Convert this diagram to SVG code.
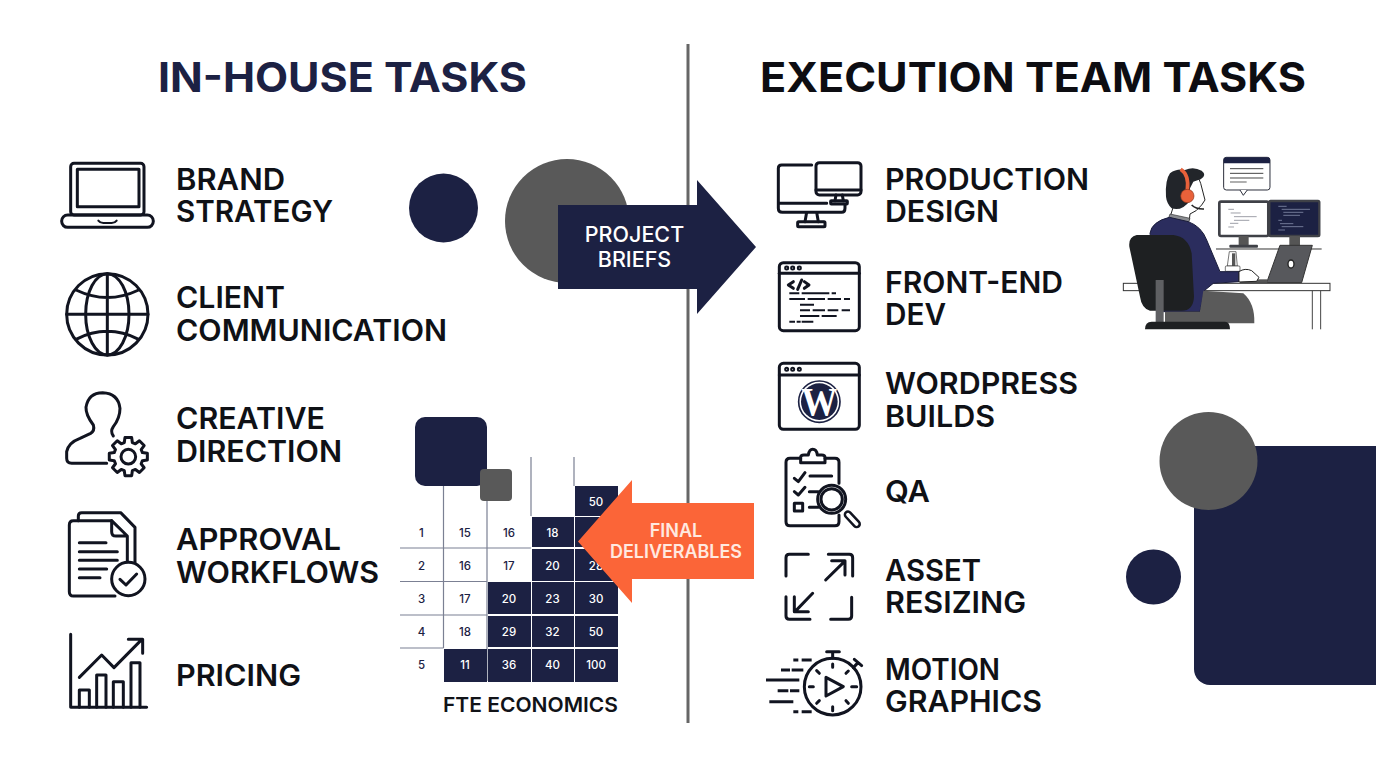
<svg xmlns="http://www.w3.org/2000/svg" width="1376" height="768" viewBox="0 0 1376 768">
<style>
.t{font-family:"Inter","Liberation Sans",sans-serif}
.title{font-size:41px;font-weight:700}
.lb{font-size:30px;font-weight:600;fill:#0f1116}
.n{font-size:11.5px;font-weight:500;text-anchor:middle;fill:#1c2143}
.cell{fill:#1c2143}
.g{stroke:#7b8093;stroke-width:1.2;fill:none}
.ic{fill:none;stroke:#111420;stroke-width:9;stroke-linecap:round;stroke-linejoin:round}
.l{stroke:#9aa3c0;stroke-width:2;fill:none}
</style>
<rect width="1376" height="768" fill="#fff"/>

<g id="decor">
<circle cx="443.500" cy="208" r="34.500" fill="#1c2143"/>
<circle cx="567" cy="221" r="62" fill="#595959"/>
<rect x="1194" y="446" width="200" height="239" rx="16" fill="#1c2143"/>
<circle cx="1208.500" cy="461" r="49" fill="#595959"/>
<circle cx="1153.500" cy="577" r="27.500" fill="#1c2143"/>
</g>

<g id="divider"><line x1="688" y1="44" x2="688" y2="723" stroke="#666" stroke-width="3"/></g>

<g id="titles" class="t">
<text class="t title" x="158" y="92" fill="#1c2143" textLength="369" lengthAdjust="spacingAndGlyphs">IN-HOUSE TASKS</text>
<text class="t title" x="760" y="92" fill="#0d0d12" textLength="546" lengthAdjust="spacingAndGlyphs">EXECUTION TEAM TASKS</text>
</g>

<g id="node-brand-strategy">
<g transform="translate(50,150) scale(.3333)" class="ic">
<rect x="62" y="40" width="220" height="155" rx="10"/><rect x="82" y="58" width="185" height="112"/>
<rect x="35" y="195" width="275" height="37" rx="18"/><path d="M145 212Q150 219 160 219H185Q195 219 200 212" stroke-width="6"/>
</g>
<text class="t lb" x="176" y="190" textLength="109" lengthAdjust="spacingAndGlyphs">BRAND</text>
<text class="t lb" x="176" y="222" textLength="157" lengthAdjust="spacingAndGlyphs">STRATEGY</text>
</g>
<g id="node-client-communication">
<g transform="translate(50,150) scale(.3333)" class="ic">
<circle cx="172" cy="493" r="122"/><ellipse cx="172" cy="493" rx="65" ry="122"/>
<path d="M172 371V615M50 493H294M78 420Q172 465 266 420M78 568Q172 520 266 568"/>
</g>
<text class="t lb" x="176" y="308" textLength="109" lengthAdjust="spacingAndGlyphs">CLIENT</text>
<text class="t lb" x="176" y="341" textLength="271" lengthAdjust="spacingAndGlyphs">COMMUNICATION</text>
</g>
<g id="node-creative-direction">
<g transform="translate(50,150) scale(.3333)" class="ic">
<path d="M170 940H65Q50 940 50 925V905Q55 878 90 865L122 850Q135 843 130 825Q107 795 108 772Q115 728 158 728Q205 730 210 775Q210 805 190 830Q180 845 190 858"/>
<circle cx="235" cy="920" r="22"/>
<path transform="translate(235,920)" d="M42.300 -12.100L57.100 -10.100L57.100 10.100L42.300 12.100L38.500 21.300L47.500 33.300L33.300 47.500L21.300 38.500L12.100 42.300L10.100 57.100L-10.100 57.100L-12.100 42.300L-21.300 38.500L-33.300 47.500L-47.500 33.300L-38.500 21.300L-42.300 12.100L-57.100 10.100L-57.100 -10.100L-42.300 -12.100L-38.500 -21.300L-47.500 -33.300L-33.300 -47.500L-21.300 -38.500L-12.100 -42.300L-10.100 -57.100L10.100 -57.100L12.100 -42.300L21.300 -38.500L33.300 -47.500L47.500 -33.300L38.500 -21.300Z"/>
</g>
<text class="t lb" x="176" y="429" textLength="149" lengthAdjust="spacingAndGlyphs">CREATIVE</text>
<text class="t lb" x="176" y="462" textLength="166" lengthAdjust="spacingAndGlyphs">DIRECTION</text>
</g>
<g id="node-approval-workflows">
<g transform="translate(50,500) scale(.3333)" class="ic">
<path d="M85 62V48Q85 38 95 38H212L255 82V195"/>
<path d="M185 62H70Q58 62 58 75V275Q58 288 70 288H195"/>
<path d="M185 62V95Q185 108 198 108H232V190M185 62L232 108"/>
<path d="M88 128H168M88 155H202M88 181H202M88 207H170M88 233H150"/>
<circle cx="235" cy="237" r="50" fill="#fff"/><path d="M210 238L228 255L260 222"/>
</g>
<text class="t lb" x="176" y="550" textLength="165" lengthAdjust="spacingAndGlyphs">APPROVAL</text>
<text class="t lb" x="176" y="583" textLength="203" lengthAdjust="spacingAndGlyphs">WORKFLOWS</text>
</g>
<g id="node-pricing">
<g transform="translate(50,500) scale(.3333)" class="ic">
<path d="M62 403V622H290"/>
<path d="M88 622V570H118V622M140 622V525H168V622M190 622V545H220V622M243 622V488H270V622"/>
<path d="M88 532L155 465L192 503L272 422M235 418H278V460"/>
</g>
<text class="t lb" x="176" y="686" textLength="125" lengthAdjust="spacingAndGlyphs">PRICING</text>
</g>

<g id="node-fte-economics">
<rect x="415" y="417" width="72" height="69" rx="10" fill="#1c2143"/>
<g class="g">
<path d="M443.500 486V648M487 501V681M531 457V516M574 457V486M400 548H531M400 581.500H487M400 615H487M400 648H443.500"/>
</g>
<rect x="480" y="469" width="32" height="32" rx="4" fill="#595959"/>
<g>
<rect class="cell" x="575" y="486" width="43" height="30"/>
<rect class="cell" x="532" y="517" width="42" height="30"/><rect class="cell" x="575" y="517" width="43" height="30"/>
<rect class="cell" x="532" y="549" width="42" height="32"/><rect class="cell" x="575" y="549" width="43" height="32"/>
<rect class="cell" x="488" y="582" width="43" height="32"/><rect class="cell" x="532" y="582" width="42" height="32"/><rect class="cell" x="575" y="582" width="43" height="32"/>
<rect class="cell" x="488" y="616" width="43" height="31"/><rect class="cell" x="532" y="616" width="42" height="31"/><rect class="cell" x="575" y="616" width="43" height="31"/>
<rect class="cell" x="444" y="649" width="43" height="33"/><rect class="cell" x="488" y="649" width="43" height="33"/><rect class="cell" x="532" y="649" width="42" height="33"/><rect class="cell" x="575" y="649" width="43" height="33"/>
</g>
<g class="t">
<text class="t n" style="fill:#fff" x="596" y="505.500">50</text>
<text class="t n" x="421.500" y="537">1</text><text class="t n" x="465" y="537">15</text><text class="t n" x="509" y="537">16</text><text class="t n" style="fill:#fff" x="552.500" y="537">18</text>
<text class="t n" x="421.500" y="569.500">2</text><text class="t n" x="465" y="569.500">16</text><text class="t n" x="509" y="569.500">17</text><text class="t n" style="fill:#fff" x="552.500" y="569.500">20</text><text class="t n" style="fill:#fff" x="596" y="569.500">28</text>
<text class="t n" x="421.500" y="602.500">3</text><text class="t n" x="465" y="602.500">17</text><text class="t n" style="fill:#fff" x="509" y="602.500">20</text><text class="t n" style="fill:#fff" x="552.500" y="602.500">23</text><text class="t n" style="fill:#fff" x="596" y="602.500">30</text>
<text class="t n" x="421.500" y="635.500">4</text><text class="t n" x="465" y="635.500">18</text><text class="t n" style="fill:#fff" x="509" y="635.500">29</text><text class="t n" style="fill:#fff" x="552.500" y="635.500">32</text><text class="t n" style="fill:#fff" x="596" y="635.500">50</text>
<text class="t n" x="421.500" y="669">5</text><text class="t n" style="fill:#fff" x="465" y="669">11</text><text class="t n" style="fill:#fff" x="509" y="669">36</text><text class="t n" style="fill:#fff" x="552.500" y="669">40</text><text class="t n" style="fill:#fff" x="596" y="669">100</text>
</g>
<text class="t" x="443" y="712" font-size="20.500" font-weight="600" fill="#111318" textLength="175" lengthAdjust="spacingAndGlyphs">FTE ECONOMICS</text>
</g>

<g id="connectors">
<g id="arrow-project-briefs">
<path d="M558 205H697V180L756 247L697 314V289H558Z" fill="#1c2143"/>
<text class="t" x="634.500" y="242" font-size="21.500" font-weight="500" fill="#fff" text-anchor="middle">PROJECT</text>
<text class="t" x="634.500" y="267" font-size="21.500" font-weight="500" fill="#fff" text-anchor="middle">BRIEFS</text>
</g>
<g id="arrow-final-deliverables">
<path d="M754 503H632V480L578 541.500L632 603V579H754Z" fill="#fb6538"/>
<text class="t" x="676" y="537" font-size="18" font-weight="600" fill="#ffe9e0" text-anchor="middle">FINAL</text>
<text class="t" x="676" y="558" font-size="18" font-weight="600" fill="#ffe9e0" text-anchor="middle" textLength="132" lengthAdjust="spacingAndGlyphs">DELIVERABLES</text>
</g>
</g>

<g id="node-production-design">
<g transform="translate(760,150) scale(.3333)" class="ic">
<path d="M155 45H65Q55 45 55 55V175Q55 187 67 187H245Q255 187 255 175V165M55 160H200M140 187L135 215M170 187L175 215"/>
<rect x="113" y="215" width="82" height="15" rx="3"/>
<rect x="168" y="38" width="135" height="97" rx="10"/><path d="M168 120H303M228 135L225 152M247 135L250 152"/><rect x="212" y="152" width="50" height="10" rx="2"/>
</g>
<text class="t lb" x="885" y="190" textLength="204" lengthAdjust="spacingAndGlyphs">PRODUCTION</text>
<text class="t lb" x="885" y="222" textLength="114" lengthAdjust="spacingAndGlyphs">DESIGN</text>
</g>
<g id="node-front-end-dev">
<g transform="translate(760,150) scale(.3333)" class="ic">
<rect x="58" y="338" width="240" height="204" rx="12"/><path d="M58 370H298"/>
<circle cx="80" cy="354" r="3"/><circle cx="98" cy="354" r="3"/><circle cx="118" cy="354" r="3"/>
<path d="M100 395L85 405L100 415M113 418L125 390M133 395L147 405L133 415"/>
<path stroke-linecap="butt" stroke-width="6" d="M88 430H118M125 430H208M215 430H228M88 447H135M143 447H195M203 447H243M252 447H270M120 464H162M120 481H150M158 481H195M203 481H235M245 481H270M120 498H178M185 498H230M88 515H105M110 515H122M125 515H160"/>
</g>
<text class="t lb" x="885" y="293" textLength="178" lengthAdjust="spacingAndGlyphs">FRONT-END</text>
<text class="t lb" x="885" y="325" textLength="61" lengthAdjust="spacingAndGlyphs">DEV</text>
</g>
<g id="node-wordpress-builds">
<g transform="translate(760,150) scale(.3333)">
<g class="ic"><rect x="58" y="640" width="240" height="198" rx="12"/><path d="M58 675H298"/>
<circle cx="80" cy="658" r="3"/><circle cx="98" cy="658" r="3"/><circle cx="118" cy="658" r="3"/></g>
<circle cx="178" cy="755" r="62" fill="none" stroke="#1c2143" stroke-width="5"/>
<circle cx="178" cy="755" r="55" fill="#1c2143"/>
<text x="178" y="796" font-family="Liberation Serif,serif" font-weight="700" font-size="118" fill="#fff" text-anchor="middle" textLength="108" lengthAdjust="spacingAndGlyphs">W</text>
</g>
<text class="t lb" x="885" y="394" textLength="193" lengthAdjust="spacingAndGlyphs">WORDPRESS</text>
<text class="t lb" x="885" y="427" textLength="110" lengthAdjust="spacingAndGlyphs">BUILDS</text>
</g>
<g id="node-qa">
<g transform="translate(760,440) scale(.3333)" class="ic">
<path d="M122 55H90Q78 55 78 67V245Q78 257 90 257H225Q237 257 237 245V225M195 55H225Q237 55 237 67V130"/>
<path d="M122 68V52Q122 45 132 45H145Q148 28 158 28Q170 28 172 45H185Q195 45 195 52V68Z"/>
<path d="M103 115L115 125L135 98M103 155L115 165L135 142M150 108H215M148 155H175M148 202H175"/>
<rect x="103" y="190" width="25" height="23"/>
<circle cx="215" cy="178" r="42" fill="#fff"/><circle cx="215" cy="178" r="32"/>
<path d="M264 224L290 252" stroke-width="26"/><path d="M264 224L290 252" stroke="#fff" stroke-width="11"/>
</g>
<text class="t lb" x="885" y="502" textLength="45" lengthAdjust="spacingAndGlyphs">QA</text>
</g>
<g id="node-asset-resizing">
<g transform="translate(760,440) scale(.3333)" class="ic">
<path d="M145 343H88Q78 343 78 353V408M205 343H268Q278 343 278 353V408M78 470V528Q78 538 88 538H150M212 538H265Q275 538 275 528V472"/>
<path d="M197 420L250 368M215 362H255V405M158 460L105 515M103 470V515H145"/>
</g>
<text class="t lb" x="885" y="581" textLength="96" lengthAdjust="spacingAndGlyphs">ASSET</text>
<text class="t lb" x="885" y="613" textLength="141" lengthAdjust="spacingAndGlyphs">RESIZING</text>
</g>
<g id="node-motion-graphics">
<g transform="translate(760,440) scale(.3333)" class="ic">
<circle cx="218" cy="740" r="85"/>
<path d="M200 635H238M218 635V655M283 658L305 677M294 668L280 683M218 672V682M218 800V812M275 740H290M148 740H160M170 692L178 700M265 693L258 700M170 790L178 782M265 790L258 782"/>
<path d="M198 712L250 740L198 768Z"/>
<path stroke-linecap="butt" d="M100 660H115M125 660H155M63 690H90M95 690H130M18 720H118M53 752H85M90 752H118M28 785H100M100 815H115M125 815H155"/>
</g>
<text class="t lb" x="885" y="680" textLength="115" lengthAdjust="spacingAndGlyphs">MOTION</text>
<text class="t lb" x="885" y="712" textLength="157" lengthAdjust="spacingAndGlyphs">GRAPHICS</text>
</g>

<g id="illustration" transform="translate(1110,140) scale(.3333)">
<rect x="341" y="52" width="139" height="98" rx="8" fill="#fff" stroke="#2a2d3a" stroke-width="3"/>
<path d="M341 70V60Q341 52 349 52H472Q480 52 480 60V70Z" fill="#1c2143"/>
<path d="M390 150L400 166L412 150" fill="#fff" stroke="#2a2d3a" stroke-width="3"/>
<path d="M360 86H460M360 100H460M360 114H460" stroke="#444" stroke-width="3"/><path d="M360 126H410" stroke="#888" stroke-width="4"/>
<rect x="328" y="185" width="147" height="103" rx="5" fill="#fff" stroke="#3f4147" stroke-width="8"/>
<path d="M355 208H372M362 219H392M372 230H440M372 241H418M360 250H385M355 261H372" stroke="#8a8d96" stroke-width="2.500" fill="none"/>
<rect x="478" y="183" width="150" height="105" rx="4" fill="#1c2143" stroke="#3f4147" stroke-width="7"/>
<path d="M505 199H530M515 208H600M520 217H580M520 226H570M505 241H516M510 251H550M515 260H580M505 270H525" class="l"/>
<rect x="386" y="288" width="30" height="27" fill="#555"/><rect x="358" y="314" width="86" height="9" rx="3" fill="#3f4147"/>
<rect x="538" y="288" width="32" height="30" fill="#555"/>
<path d="M318 327H635" stroke="#333" stroke-width="3"/>
<path d="M352 378L358 335H378L382 378Z" fill="#fff" stroke="#333" stroke-width="2"/><rect x="366" y="340" width="10" height="38" fill="#555"/>
<rect x="346" y="378" width="44" height="16" rx="3" fill="#fff" stroke="#333" stroke-width="2"/>
<path d="M510 316H607L575 428H470Z" fill="#57585c" stroke="#333" stroke-width="3"/>
<ellipse cx="543" cy="372" rx="9" ry="12" fill="#fff" stroke="#222" stroke-width="4"/>
<rect x="390" y="418" width="82" height="12" fill="#555"/>
<rect x="40" y="430" width="620" height="22" fill="#fff" stroke="#333" stroke-width="3"/>
<path d="M607 452V568M632 452V568" stroke="#444" stroke-width="3"/>
<path d="M235 110Q265 100 272 130L285 180L275 195Q260 215 240 222L238 240L180 232L190 200Z" fill="#fff" stroke="#222" stroke-width="3"/>
<path d="M180 222L240 235L236 247L176 233Z" fill="#8a8c90" stroke="#333" stroke-width="2"/>
<path d="M120 280Q125 245 178 232L235 245Q275 260 290 300L330 395L387 395L387 425L310 430L283 452L270 515H160Z" fill="#2b2d5e" stroke="#1a1c3a" stroke-width="3"/>
<path d="M387 395Q405 383 425 392L447 412L440 424L387 426Z" fill="#fff" stroke="#222" stroke-width="3"/>
<path d="M168 170Q165 120 180 100Q200 85 225 90Q250 78 275 92Q292 105 272 118Q260 122 250 125L240 145V182Q215 215 185 205Q170 190 168 170Z" fill="#22252a"/>
<path d="M212 88Q238 105 232 150" fill="none" stroke="#e8613a" stroke-width="11"/>
<circle cx="232" cy="168" r="20" fill="#e8613a" stroke="#8b3418" stroke-width="2"/>
<path d="M245 195Q258 208 282 207" fill="none" stroke="#222" stroke-width="5"/>
<path d="M165 515H270L280 452L400 460Q435 490 433 550H165Z" fill="#5a5a5a"/>
<path d="M80 285H190Q235 290 245 340L252 470Q250 512 215 512H120Q95 505 90 470L58 320Q55 290 80 285Z" fill="#1e2022"/>
<rect x="137" y="420" width="24" height="140" fill="#5f6063"/>
<path d="M105 568Q105 545 125 545H345Q360 545 360 568Z" fill="#1e2022"/>
</g>
</svg>
